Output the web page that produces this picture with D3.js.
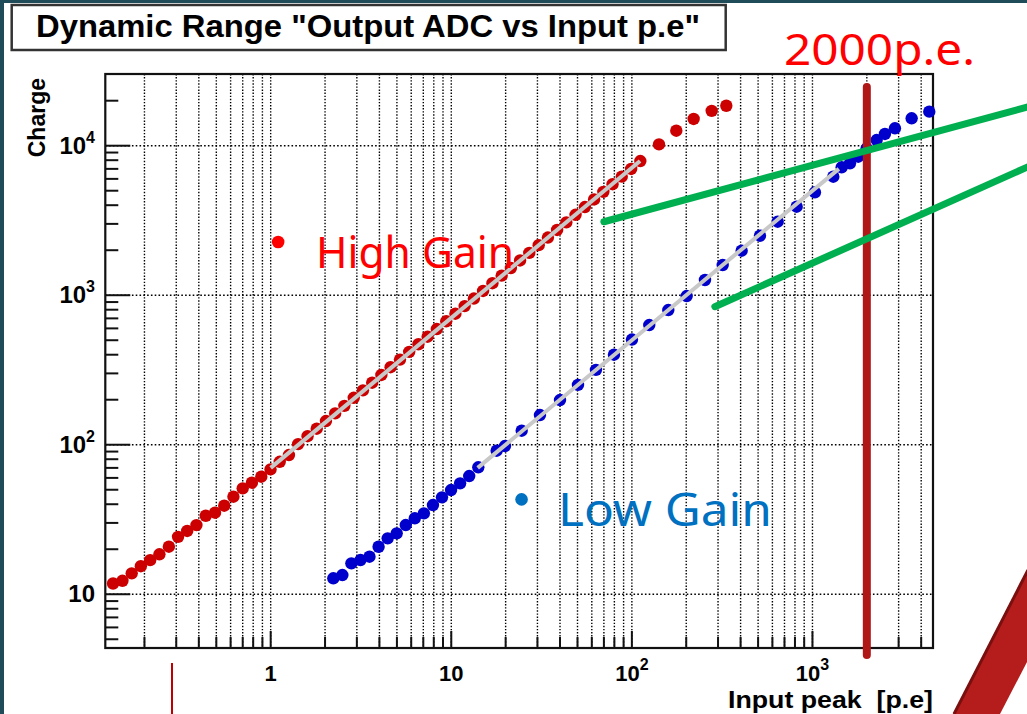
<!DOCTYPE html>
<html><head><meta charset="utf-8">
<script src="https://cdn.jsdelivr.net/npm/d3@7"></script>
<style>body{margin:0;background:#fff;} svg{display:block;}</style>
</head><body><svg id="c" width="1027" height="714"></svg>
<script>
// ---- data ----
const highX = [0.134,0.151,0.170,0.191,0.215,0.242,0.273,0.307,0.345,0.388,0.437,0.492,0.553,0.622,0.700,0.787,0.887,0.998,1.122,1.262,
  1.419,1.600,1.799,2.023,2.275,2.559,2.884,3.243,3.648,4.102,4.613,5.200,5.848,6.577,7.396,8.318,9.376,10.54,11.86,13.34,
  15.00,16.90,19.01,21.38,24.04,27.04,30.48,34.28,38.55,43.35,48.75,54.95,61.80,69.50,78.16,87.90,99.08,111.4,
  141.3,176.2,219.8,276.7,333.4];
const highY = [11.8,12.3,13.8,15.4,16.9,18.5,20.8,24.2,26.5,29.0,33.5,35.1,39.1,44.9,51.1,55.7,61.1,68.4,76.9,85.3,
  101,114,128,144,162,182,206,231,260,293,330,371,418,470,528,594,669,752,846,950,
  1068,1203,1352,1520,1708,1920,2162,2430,2732,3070,3452,3890,4372,4915,5525,6210,6990,7900,
  10200,12600,15100,17100,18500];
const lowX = [2.222,2.494,2.798,3.143,3.525,3.958,4.444,4.985,5.598,6.28,7.053,7.918,8.882,9.975,11.19,12.57,14.11,
  17.84,19.83,24.54,30.98,39.99,50.3,63.26,79.6,100.1,124.8,159.1,201.1,254.0,318.3,405.5,512.1,641.7,817.5,1032,1304,
  1451,1613,1793,1996,2267,2520,2862,3542,4434];
const lowY = [12.78,13.44,16.09,16.94,17.82,20.78,23.65,25.55,29.04,32.2,34.76,39.51,44.48,49.77,55.18,61.75,70.62,
  91.2,98.0,124.1,158.0,199.1,251.2,316.9,399.9,505.4,631.9,796.2,987.6,1264,1592,1985,2500,3101,3908,4878,6203,
  7171,7625,8443,9608,10910,11980,13080,15250,16890];
const highFitX = [1.0, 111];
const highFitY = [70, 7900];
const lowFitX = [14, 1400];
const lowFitY = [70, 7000];
const xMajor = [1, 10, 100, 1000];
const xTickBase = ["1", "10", "10", "10"];
const xTickExp = ["", "", "2", "3"];
const yMajor = [10, 100, 1000, 10000];
const yTickBase = ["10", "10", "10", "10"];
const yTickExp = ["", "2", "3", "4"];
const markerLine = 2000;
const calloutA = [[70, 3100], [18160, 19100]];
const calloutB = [[288, 838], [18160, 7840]];

// ---- layout ----
const W = 1027, H = 714;
const L = 105.3, R = 933, T = 74, B = 648;
const x = d3.scaleLog().domain([0.1214, 4650]).range([L, R]);
const y = d3.scaleLog().domain([4.37, 30170]).range([B, T]);
const svg = d3.select("#c");
const AX = "'Liberation Sans', Arial, sans-serif";

svg.append("rect").attr("width", W).attr("height", H).attr("fill", "#fff");
svg.append("rect").attr("x", 0).attr("y", 0).attr("width", W).attr("height", 3).attr("fill", "#1f4c58");
svg.append("rect").attr("x", 0).attr("y", 0).attr("width", 4).attr("height", H).attr("fill", "#1f4c58");

// title box
svg.append("rect").attr("x", 11.7).attr("y", 5).attr("width", 714).attr("height", 45)
  .attr("fill", "#fff").attr("stroke", "#333").attr("stroke-width", 2.5);
svg.append("text").attr("x", 36).attr("y", 37).attr("font-family", AX).attr("font-weight", "bold")
  .attr("font-size", 31).attr("textLength", 664).attr("lengthAdjust", "spacingAndGlyphs")
  .attr("fill", "#000").text('Dynamic Range "Output ADC vs Input p.e"');

const xTicks = x.ticks().filter(v => x(v) > L + 1 && x(v) < R - 1);
const yTicks = y.ticks().filter(v => y(v) > T + 1 && y(v) < B - 1);
const isMajor = v => Math.abs(Math.log10(v) - Math.round(Math.log10(v))) < 1e-6;

// grid
const g = svg.append("g");
g.selectAll("line.vg").data(xTicks).join("line")
  .attr("x1", d => x(d)).attr("x2", d => x(d)).attr("y1", T).attr("y2", B)
  .attr("stroke", "#000").attr("stroke-width", 1.4).attr("stroke-dasharray", "1.4,1.7");
g.selectAll("line.hg").data(yMajor).join("line")
  .attr("x1", L).attr("x2", R).attr("y1", d => y(d)).attr("y2", d => y(d))
  .attr("stroke", "#000").attr("stroke-width", 1.4).attr("stroke-dasharray", "1.6,2.2");

// ticks
g.selectAll("line.xt").data(xTicks).join("line")
  .attr("x1", d => x(d)).attr("x2", d => x(d)).attr("y1", B).attr("y2", d => B - (isMajor(d) ? 17 : 11))
  .attr("stroke", "#111").attr("stroke-width", 2);
g.selectAll("line.yt").data(yTicks).join("line")
  .attr("y1", d => y(d)).attr("y2", d => y(d)).attr("x1", L).attr("x2", d => L + (isMajor(d) ? 25 : 13))
  .attr("stroke", "#111").attr("stroke-width", 2);

// frame
svg.append("rect").attr("x", L).attr("y", T).attr("width", R - L).attr("height", B - T)
  .attr("fill", "none").attr("stroke", "#111").attr("stroke-width", 2.2);

// tick labels
xMajor.forEach((v, i) => {
  const t = svg.append("text").attr("x", x(v)).attr("y", 681).attr("text-anchor", "middle")
    .attr("font-family", AX).attr("font-weight", "bold").attr("font-size", 22).attr("fill", "#000");
  t.append("tspan").text(xTickBase[i]);
  if (xTickExp[i]) t.append("tspan").attr("font-size", 16).attr("dy", -11).text(xTickExp[i]);
});
yMajor.forEach((v, i) => {
  const t = svg.append("text").attr("x", 95).attr("y", y(v) + 8).attr("text-anchor", "end")
    .attr("font-family", AX).attr("font-weight", "bold").attr("font-size", 24).attr("fill", "#000");
  t.append("tspan").text(yTickBase[i]);
  if (yTickExp[i]) t.append("tspan").attr("font-size", 16).attr("dy", -11).text(yTickExp[i]);
});

// axis titles
svg.append("text").attr("x", 728).attr("y", 708)
  .attr("font-family", AX).attr("font-weight", "bold").attr("font-size", 24).attr("fill", "#000")
  .attr("textLength", 205).attr("lengthAdjust", "spacingAndGlyphs")
  .attr("xml:space", "preserve").text("Input peak  [p.e]");
svg.append("text").attr("transform", "translate(45,78) rotate(-90)").attr("text-anchor", "end")
  .attr("font-family", AX).attr("font-weight", "bold").attr("font-size", 23).attr("fill", "#000")
  .text("Charge");

// data
const plot = svg.append("g");
const high = highX.map((v, i) => [v, highY[i]]);
const low = lowX.map((v, i) => [v, lowY[i]]);
plot.selectAll("circle.h").data(high).join("circle")
  .attr("cx", d => x(d[0])).attr("cy", d => y(d[1])).attr("r", 6.2).attr("fill", "#cc0000");
plot.selectAll("circle.l").data(low).join("circle")
  .attr("cx", d => x(d[0])).attr("cy", d => y(d[1])).attr("r", 6.2).attr("fill", "#0000cc");
const line = d3.line().x(d => x(d[0])).y(d => y(d[1]));
plot.append("path").attr("d", line(highFitX.map((v, i) => [v, highFitY[i]])))
  .attr("stroke", "#c8c8c8").attr("stroke-width", 4).attr("fill", "none");
plot.append("path").attr("d", line(lowFitX.map((v, i) => [v, lowFitY[i]])))
  .attr("stroke", "#c8c8c8").attr("stroke-width", 4).attr("fill", "none");

// annotations
svg.append("line").attr("x1", x(markerLine)).attr("x2", x(markerLine)).attr("y1", 87).attr("y2", 655)
  .attr("stroke", "#b01818").attr("stroke-width", 8).attr("stroke-linecap", "round");
[calloutA, calloutB].forEach(c => {
  svg.append("path").attr("d", line(c)).attr("stroke", "#00b050").attr("stroke-width", 7)
    .attr("stroke-linecap", "round").attr("fill", "none");
});
const JP = "'Noto Sans', 'Noto Sans CJK JP', sans-serif";
svg.append("text").attr("x", 784).attr("y", 65).attr("font-family", JP).attr("font-size", 44)
  .attr("textLength", 191).attr("lengthAdjust", "spacingAndGlyphs").attr("fill", "#ff0000").text("2000p.e.");
svg.append("circle").attr("cx", x(1.10)).attr("cy", y(2270)).attr("r", 6.3).attr("fill", "#ff0000");
svg.append("text").attr("x", 316).attr("y", 268).attr("font-family", JP).attr("font-size", 44)
  .attr("textLength", 198).attr("lengthAdjust", "spacingAndGlyphs").attr("fill", "#ff0000").text("High Gain");
svg.append("circle").attr("cx", x(24.5)).attr("cy", y(43.1)).attr("r", 6.3).attr("fill", "#0070c0");
svg.append("text").attr("x", 558).attr("y", 526).attr("font-family", JP).attr("font-size", 46)
  .attr("textLength", 214).attr("lengthAdjust", "spacingAndGlyphs").attr("fill", "#0070c0").text("Low Gain");

// slide decorations
svg.append("line").attr("x1", 172).attr("x2", 172).attr("y1", 663).attr("y2", 714)
  .attr("stroke", "#c00000").attr("stroke-width", 2);
svg.append("polygon").attr("points", "953,714 1027,570 1027,662 1000,714")
  .attr("fill", "#b51c1c");
svg.append("line").attr("x1", 954).attr("y1", 714).attr("x2", 1028).attr("y2", 570)
  .attr("stroke", "#7a0f0f").attr("stroke-width", 3);
</script></body></html>
